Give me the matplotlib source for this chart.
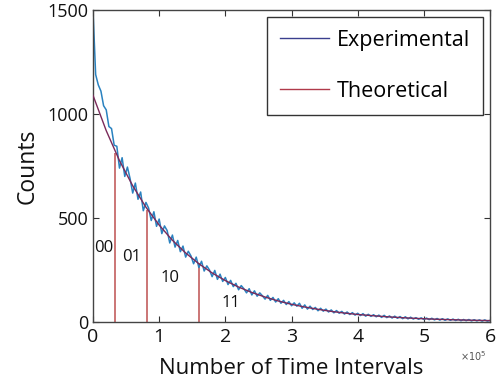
import matplotlib
matplotlib.use("Agg")
import matplotlib.pyplot as plt
from matplotlib.lines import Line2D
import numpy as np

plt.rcParams['font.family'] = ['Open Sans', 'DejaVu Sans']

# Experimental counts, sampled every 0.04 x 1e5 time intervals from 0 to 6
exp_step = 0.04
exp_counts = [
    1500, 1190, 1140, 1110, 1040, 1020, 940, 930, 850, 845,
    740, 790, 700, 745, 690, 620, 668, 590, 625, 535,
    575, 548, 488, 530, 460, 495, 425, 462, 440, 380,
    418, 360, 392, 338, 365, 312, 340, 318, 280, 312,
    262, 292, 245, 270, 250, 218, 248, 205, 230, 195,
    214, 180, 200, 170, 186, 155, 175, 160, 140, 160,
    130, 150, 124, 140, 126, 110, 128, 104, 118, 96,
    112, 90, 104, 84, 98, 78, 92, 76, 90, 66,
    82, 62, 76, 60, 70, 54, 66, 52, 62, 48,
    58, 44, 55, 42, 51, 38, 48, 36, 45, 33,
    42, 31, 40, 28, 37, 27, 35, 25, 33, 22,
    32, 21, 29, 19, 28, 18, 26, 16, 25, 15,
    23, 14, 21, 13, 20, 12, 19, 11, 18, 10,
    17, 9, 16, 8, 15, 8, 14, 7, 13, 6,
    12, 6, 12, 5, 11, 5, 10, 4, 10, 4, 8,
]

# Theoretical curve, sampled every 0.2 x 1e5
theo_step = 0.2
theo_counts = [
    1090, 920, 776, 655, 552, 466, 393, 332, 280, 236,
    199, 168, 142, 120, 101, 85, 72, 61, 51, 43,
    36, 31, 26, 22, 18.5, 15.6, 13.1, 11.1, 9.4, 7.9, 6.7,
]

# Region boundaries (x 1e5) and their heights
bound_x = [0.33, 0.81, 1.60]
bound_h = [815, 540, 285]

region_labels = ["00", "01", "10", "11"]
region_x = [0.17, 0.59, 1.17, 2.08]
region_y = [355, 312, 210, 90]

x_ticks = [0, 1, 2, 3, 4, 5, 6]
y_ticks = [0, 500, 1000, 1500]

exp_x = np.arange(len(exp_counts)) * exp_step
theo_x = np.arange(len(theo_counts)) * theo_step

fig = plt.figure(figsize=(4.96, 3.87), dpi=100)
ax = fig.add_axes([0.1875, 0.168, 0.8005, 0.806])

ax.plot(exp_x, exp_counts, color='#2a82c0', lw=1.1, zorder=2)
ax.plot(theo_x, theo_counts, color='#7a2a5a', lw=1.0, zorder=3)
ax.vlines(bound_x, 0, bound_h, color='#c25e5e', lw=1.2, zorder=1)

for lab, lx, ly in zip(region_labels, region_x, region_y):
    ax.text(lx, ly, lab, fontsize=12, ha='center', va='center', color='#111111')

ax.set_xlim(0, 6)
ax.set_ylim(0, 1500)
ax.set_xticks(x_ticks)
ax.set_yticks(y_ticks)
ax.tick_params(direction='in', top=True, right=True, length=4, width=0.8,
               colors='#333333', labelcolor='#111111')
ax.tick_params(axis='y', labelsize=13, pad=3)
ax.tick_params(axis='x', labelsize=14, pad=4)
for sp in ax.spines.values():
    sp.set_color('#444444')
    sp.set_linewidth(1.0)

ax.set_xlabel('Number of Time Intervals', fontsize=16, labelpad=9, color='#111111')
ax.set_ylabel('Counts', fontsize=16.5, labelpad=6, color='#111111')

ax.text(0.99, -0.112, r'$\times10^5$', transform=ax.transAxes, fontsize=7,
        ha='right', va='center', color='#555555')

handles = [Line2D([], [], color='#3a3f8e', lw=1.0),
           Line2D([], [], color='#b03a4a', lw=1.0)]
leg = ax.legend(handles, ['Experimental', 'Theoretical'], loc='upper right',
                bbox_to_anchor=(0.982, 0.978), fontsize=15.5, frameon=True,
                fancybox=False, framealpha=1, edgecolor='#333333',
                handlelength=2.3, labelspacing=1.4, borderpad=0.6,
                handletextpad=0.35, borderaxespad=0.0)
leg.get_frame().set_linewidth(1.0)

fig.savefig('out.png', dpi=100)
